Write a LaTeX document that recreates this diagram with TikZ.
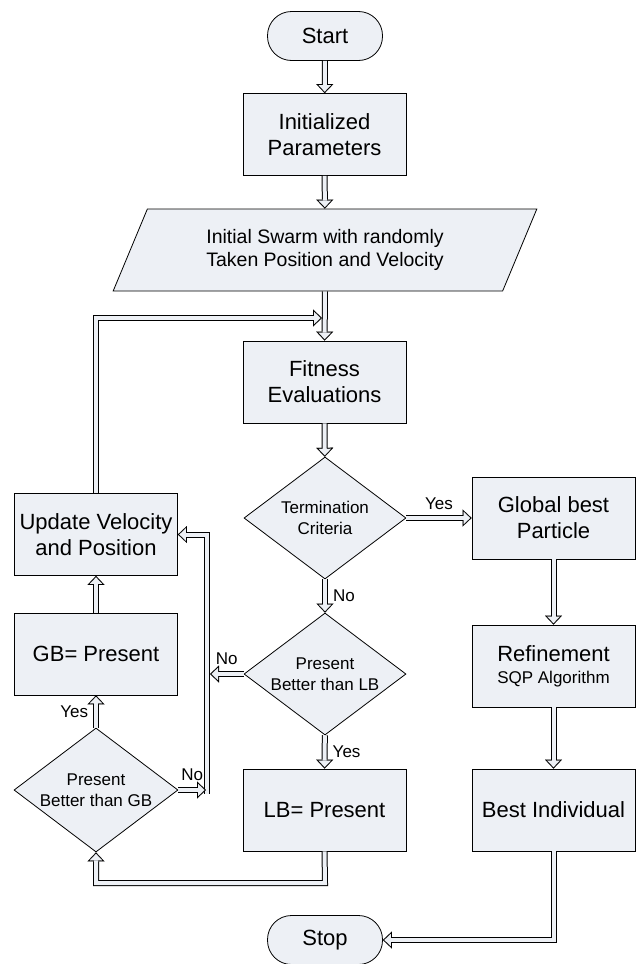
\documentclass[tikz,border=0pt]{standalone}
\usepackage{fontspec}
\setmainfont{Liberation Sans}
\usepackage{tikz}
\usetikzlibrary{arrows.meta, shapes.geometric, calc}

\definecolor{boxfill}{RGB}{237,240,245}

\tikzset{
    bigtext/.style={font=\fontsize{22}{26}\selectfont},
    smalltext/.style={font=\fontsize{17}{21.5}\selectfont},
    process/.style={rectangle, draw=black, line width=0.8pt, fill=boxfill, minimum width=163pt, minimum height=82pt, align=center, bigtext},
    startstop/.style={rectangle, rounded corners=24pt, draw=black, line width=0.8pt, fill=boxfill, minimum width=115pt, minimum height=49pt, bigtext},
    decision/.style={diamond, draw=black, line width=0.8pt, fill=boxfill, minimum width=162pt, minimum height=122pt, aspect=1.33, inner sep=0pt, align=center, smalltext},
    io/.style={trapezium, trapezium left angle=64, trapezium right angle=116, trapezium stretches=true, draw=black, line width=0.8pt, fill=boxfill, minimum width=424pt, minimum height=82pt, align=center, font=\fontsize{19.5}{23.3}\selectfont},
    pipe/.style={draw=black, line width=6pt, postaction={draw=boxfill, line width=4pt}},
    pipearrow/.style={draw=black, line width=6pt, -{Triangle[length=9pt, width=17pt, line width=0.01pt]},
        postaction={draw=boxfill, line width=4pt, shorten >=1.5pt, -{Triangle[length=6.5pt, width=12.3pt, line width=0.01pt]}}},
    answer/.style={smalltext, inner sep=2pt},
}

\begin{document}
\begin{tikzpicture}[x=1pt, y=-1pt]

        \useasboundingbox (0,0) rectangle (636,964);

        %% Main column
        \node (start) [startstop] at (325,36) {Start};
        \node (init) [process] at (324.5,134.5) {Initialized\\Parameters};
        \node (swarm) [io] at (325,250) {Initial Swarm with randomly\\Taken Position and Velocity};
        \node (fitness) [process] at (324.5,382) {Fitness\\Evaluations};
        \node (term) [decision] at (325,518) {Termination\\Criteria};
        \node (lbq) [decision] at (325,674) {Present\\Better than LB};
        \node (lb) [process] at (324.5,810) {LB= Present};
        \node (stop) [startstop] at (325,940) {Stop};

        %% Left column
        \node (update) [process] at (96,534.5) {Update Velocity\\and Position};
        \node (gb) [process] at (96,654) {GB= Present};
        \node (gbq) [decision, minimum width=164pt, minimum height=124pt] at (96,790) {Present\\Better than GB};

        %% Right column
        \node (gbest) [process] at (553.5,518) {Global best\\Particle};
        \node (refine) [process] at (553.5,666) {Refinement\\[-4pt]{\fontsize{17}{20}\selectfont SQP Algorithm}};
        \node (best) [process] at (553.5,810) {Best Individual};

        %% Joints of the pipes
        \coordinate (merge) at (322,318);
        \coordinate (jbot) at (207,794);
        \coordinate (jlb) at (210,674);
        \coordinate (jgb) at (206,790);
        \coordinate (lbturn) at (325,883);

        %% Arrows
        \draw [pipearrow] (start) -- (init);
        \draw [pipearrow] (init) -- (swarm);
        \draw [pipearrow] (swarm) -- (fitness);
        \draw [pipearrow] (fitness) -- (term);
        \draw [pipearrow] (term) -- node [answer, above=3pt] {Yes} (gbest);
        \draw [pipearrow] (term) -- node [answer, right=3pt] {No} (lbq);
        \draw [pipearrow] (lbq) -- node [answer, right=3pt] {Yes} (lb);
        \draw [pipearrow] (gbest) -- (refine);
        \draw [pipearrow] (refine) -- (best);
        \draw [pipearrow] (best.south) |- (stop.east);

        %% Loop back
        \draw [pipearrow] (update.north) |- (merge);
        \draw [pipearrow] (jbot) |- (update.east);
        \draw [pipearrow] (lbq.west) -- node [answer, above=4pt] {No} (jlb);
        \draw [pipearrow] (gbq.east) -- node [answer, above=4pt] {No} (jgb);
        \draw [pipearrow] (gbq.north) -- node [answer, left=3pt] {Yes} (gb.south);
        \draw [pipearrow] (gb) -- (update);
        \draw [pipearrow] (lb.south) -- (lbturn) -| (gbq.south);

\end{tikzpicture}
\end{document}
